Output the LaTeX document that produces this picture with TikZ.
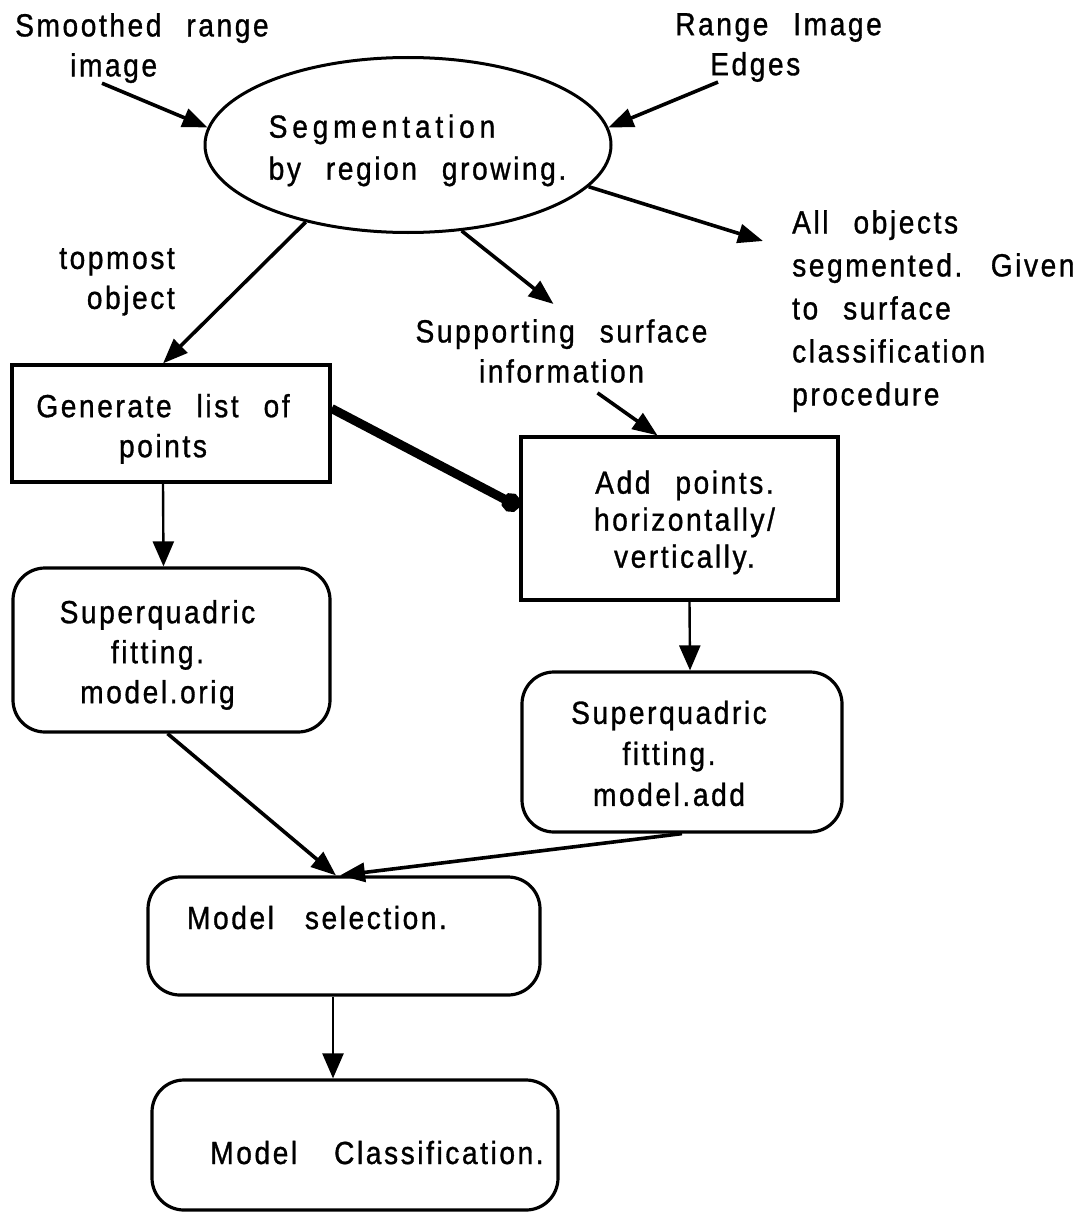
\documentclass[tikz,border=0pt]{standalone}
\usepackage{fontspec}
\newfontfamily\dfont[FakeStretch=0.88,LetterSpace=8,WordSpace=2.4,FakeBold=1,Ligatures=CommonOff]{Liberation Sans}
\usetikzlibrary{arrows.meta,shapes.geometric}
\begin{document}
\begin{tikzpicture}[x=1pt,y=-1pt,
  txt/.style={inner sep=0pt, font=\dfont\fontsize{32}{40}\selectfont},
  boxbase/.style={draw, line width=3.2pt, txt},
  rbox/.style={boxbase, rounded corners=32pt},
  arr/.style={line width=3.6pt, -{Triangle[length=25pt,width=19pt]}},
  varr/.style={line width=2.4pt, -{Triangle[length=25pt,width=21pt]}},
  dotline/.style={line width=9pt, -{Circle[length=19pt]}}
]
\path[use as bounding box] (0,0) rectangle (1090,1212);

% labels
\node[txt, anchor=north west, align=left] (smooth) at (15,13) {Smoothed range\\\hspace*{55pt}image};
\node[txt, anchor=north west, align=left] (range) at (675,13) {Range Image\\\hspace*{35pt}Edges};
\node[txt, anchor=north east, align=right] (topmost) at (175,248) {topmost\\object};
\node[txt, anchor=north, align=center] (supp) at (561.5,319) {Supporting surface\\information};
\node[txt, anchor=north west, align=left, font=\dfont\fontsize{32}{43}\selectfont] (allobj) at (792,210)
  {All objects\\segmented. Given\\to surface\\classification\\procedure};

% ellipse
\node[ellipse, draw, line width=3pt, txt, inner xsep=-20pt, minimum width=406pt, minimum height=175pt,
      align=left, font=\dfont\fontsize{32}{42}\selectfont] (seg) at (408,145)
  {\rule{0pt}{34pt}\hspace*{19pt}{\addfontfeatures{LetterSpace=15}Segmentation}\\\hspace*{19pt}by region growing.};

% boxes
\node[boxbase, align=center, minimum width=318pt, minimum height=117pt] (gen) at (171,423.5)
  {\rule{0pt}{34pt}\hspace*{-16pt}Generate list of\\\hspace*{-16pt}points};
\node[boxbase, align=center, minimum width=317pt, minimum height=163pt, font=\dfont\fontsize{32}{37}\selectfont] (add) at (679.5,518.5)
  {\rule{0pt}{31pt}\hspace*{10pt}Add points.\\\hspace*{10pt}horizontally/\\\hspace*{10pt}vertically.};
\node[rbox, align=center, minimum width=317pt, minimum height=164pt] (sqo) at (171.5,650)
  {\rule{0pt}{33pt}\hspace*{-28pt}Superquadric\\\hspace*{-28pt}fitting.\\\hspace*{-28pt}model.orig};
\node[rbox, align=center, minimum width=320pt, minimum height=160pt, font=\dfont\fontsize{32}{41}\selectfont] (sqa) at (682,752)
  {\rule{0pt}{26pt}\hspace*{-26pt}Superquadric\\\hspace*{-26pt}fitting.\\\hspace*{-26pt}model.add};
\node[rbox, minimum width=392pt, text height=52pt, text depth=66pt] (sel) at (344,936)
  {Model\hspace{6pt} selection.\hspace*{54pt}};
\node[rbox, minimum width=406pt, text height=84pt, text depth=46pt] (cls) at (355,1145)
  {\hspace*{44pt}Model\hspace{12pt} Classification.};

% connectors
\draw[arr] ([xshift=87pt]smooth.south west) -- (seg.175);
\draw[arr] ([xshift=43pt]range.south west) -- (seg.5);
\draw[arr] (seg.-13) -- ([shift={(-29pt,-31pt)}]allobj.north west);
\draw[arr] (seg.-58.5) -- ([shift={(-8pt,15pt)}]supp.north);
\draw[arr] (seg.217) -- ([xshift=-8pt]gen.north);
\draw[arr] ([shift={(36pt,-10pt)}]supp.south) -- ([xshift=-22pt]add.north);
\draw[dotline] ([yshift=15pt]gen.east) -- ([yshift=11.5pt]add.west);
\draw[varr] ([xshift=-8pt]gen.south) -- ([xshift=-8pt]sqo.north);
\draw[varr] ([xshift=10pt]add.south) -- ([xshift=8pt]sqa.north);
\draw[arr] ([xshift=-4pt]sqo.south) -- ([xshift=-8pt]sel.north);
\draw[arr] (sqa.south) -- ([xshift=-4pt]sel.north);
\draw[varr] ([xshift=-11pt]sel.south) -- ([xshift=-22pt]cls.north);
\end{tikzpicture}
\end{document}
